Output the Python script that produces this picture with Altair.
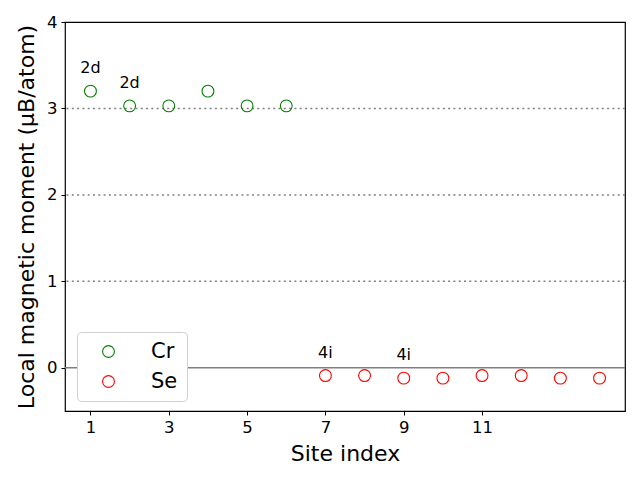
import altair as alt
import pandas as pd

cr_sites = [1, 2, 3, 4, 5, 6]
cr_moments = [3.20, 3.03, 3.03, 3.20, 3.03, 3.03]
se_sites = [7, 8, 9, 10, 11, 12, 13, 14]
se_moments = [-0.09, -0.09, -0.12, -0.12, -0.09, -0.09, -0.12, -0.12]

label_sites = [1, 2, 7, 9]
label_moments = [3.20, 3.03, -0.09, -0.12]
label_texts = ["2d", "2d", "4i", "4i"]

dotted_levels = [1, 2, 3]
zero_level = [0]
x_ticks = [1, 3, 5, 7, 9, 11]
y_ticks = [0, 1, 2, 3, 4]

df = pd.DataFrame({
    "site": cr_sites + se_sites,
    "moment": cr_moments + se_moments,
    "element": ["Cr"] * len(cr_sites) + ["Se"] * len(se_sites),
})
labels = pd.DataFrame({"site": label_sites, "moment": label_moments, "text": label_texts})
dotted = pd.DataFrame({"y": dotted_levels})
zero = pd.DataFrame({"y": zero_level})

xscale = alt.Scale(domain=[0.35, 14.65], nice=False, zero=False)
yscale = alt.Scale(domain=[-0.5, 4], nice=False, zero=False)

dotted_rules = alt.Chart(dotted).mark_rule(
    color="gray", strokeDash=[2, 3.3], strokeWidth=1.5
).encode(y=alt.Y("y:Q", scale=yscale))

zero_rule = alt.Chart(zero).mark_rule(color="gray", strokeWidth=1.5).encode(
    y=alt.Y("y:Q", scale=yscale)
)

points = alt.Chart(df).mark_point(shape="circle", filled=False, size=140, strokeWidth=1.1,
                                  opacity=1).encode(
    x=alt.X("site:Q", scale=xscale,
            axis=alt.Axis(title="Site index", values=x_ticks, grid=False, format="d")),
    y=alt.Y("moment:Q", scale=yscale,
            axis=alt.Axis(title="Local magnetic moment (μB/atom)", values=y_ticks,
                          grid=False, format="d")),
    color=alt.Color("element:N",
                    scale=alt.Scale(domain=["Cr", "Se"], range=["green", "red"]),
                    legend=alt.Legend(title=None, orient="none", legendX=12, legendY=310,
                                      symbolType="circle", symbolSize=140, symbolStrokeWidth=1.1,
                                      symbolOpacity=1,
                                      labelFontSize=21, labelFont="DejaVu Sans",
                                      rowPadding=8, padding=9, labelOffset=32,
                                      strokeColor="#d0d0d0", fillColor="white",
                                      cornerRadius=4, symbolOffset=12)),
)

texts = alt.Chart(labels).mark_text(
    fontSize=16, font="DejaVu Sans", dy=-23, baseline="middle", align="center", color="black"
).encode(
    x=alt.X("site:Q", scale=xscale),
    y=alt.Y("moment:Q", scale=yscale),
    text="text:N",
)

chart = alt.layer(dotted_rules, zero_rule, points, texts).properties(
    width=560, height=389,
    autosize=alt.AutoSizeParams(type="none"),
    padding={"left": 65, "top": 22, "right": 15, "bottom": 69},
).configure_view(
    stroke="black", strokeWidth=1.2
).configure_axis(
    labelFont="DejaVu Sans", titleFont="DejaVu Sans",
    labelFontSize=16.5, titleFontSize=22, titleFontWeight="normal",
    labelColor="black", titleColor="black",
    domain=False, tickColor="black", tickSize=4, labelPadding=4,
).configure_axisX(titlePadding=8).configure_axisY(titlePadding=8)

chart.save("out.html", embed_options={"renderer": "svg", "actions": False})
